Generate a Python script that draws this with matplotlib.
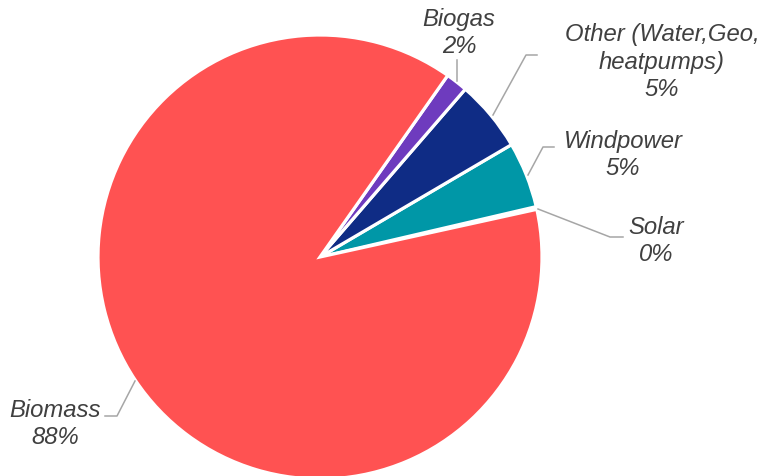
import matplotlib
matplotlib.use('Agg')
import matplotlib.pyplot as plt

plt.rcParams['font.family'] = ['Liberation Sans', 'DejaVu Sans']

# renewable heat sources, share in percent (counterclockwise from Solar)
fontes = ['Solar', 'Windpower', 'Other (Water,Geo,\nheatpumps)', 'Biogas', 'Biomass']
valores = [0.2, 4.8, 5.2, 1.6, 88.2]
rotulos = ['0%', '5%', '5%', '2%', '88%']
cores = ['#FFC000', '#0097A7', '#0F2C85', '#6E3BBE', '#FF5252']

W, H = 765, 476
fig = plt.figure(figsize=(W / 100, H / 100), dpi=100)
ax = fig.add_axes([0, 0, 1, 1])

ax.pie(valores, colors=cores, startangle=12.4, counterclock=True,
       center=(320, H - 257), radius=222,
       wedgeprops=dict(edgecolor='white', linewidth=2.3))

ax.set_xlim(0, W)
ax.set_ylim(0, H)
ax.set_aspect('equal')
ax.axis('off')

# label text position (pixels, y from top) and leader line points
posicoes = {
    'Solar': (656, 241),
    'Windpower': (623, 155),
    'Other (Water,Geo,\nheatpumps)': (662, 62),
    'Biogas': (459, 33),
    'Biomass': (55, 424),
}
linhas = {
    'Solar': [(623, 237), (610, 237), (538, 209)],
    'Windpower': [(554, 147), (543, 147), (528, 175)],
    'Other (Water,Geo,\nheatpumps)': [(537, 55), (526, 55), (493, 115)],
    'Biogas': [(457, 60), (457, 81)],
    'Biomass': [(105, 416), (117, 416), (135, 381)],
}

for fonte, rot in zip(fontes, rotulos):
    x, y = posicoes[fonte]
    ax.text(x, H - y, fonte + '\n' + rot, ha='center', va='center',
            fontsize=17.2, style='italic', color='#404040', linespacing=1.24)
    pts = linhas[fonte]
    ax.plot([p[0] for p in pts], [H - p[1] for p in pts],
            color='#A6A6A6', linewidth=1.1)

plt.savefig('out.png', dpi=100)
plt.close()
